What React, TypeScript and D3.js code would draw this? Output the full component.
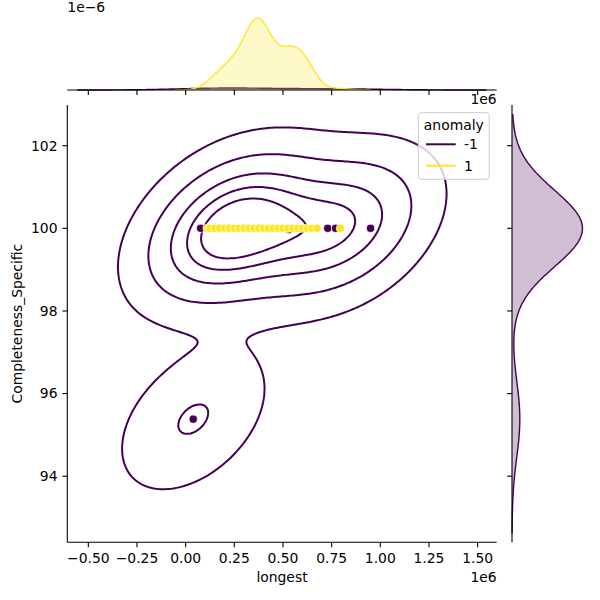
import React from 'react';
import * as d3 from 'd3';

// anomaly = -1 (purple) and anomaly = 1 (yellow); "longest" in raw units
const purpleLongest = [77000, 170000, 225000, 300000, 380000, 530000, 730000, 770000, 950000, 39000];
const purpleCompleteness = [100, 100, 100, 100, 100, 99.97, 100, 100, 100, 95.38];

// yellow points all sit at Completeness_Specific = 100; counts of overlapping points per position
const yellowLongest = [
  110000, 125000, 150000, 175000, 200000, 225000, 250000, 275000, 300000, 325000,
  350000, 375000, 400000, 425000, 450000, 475000, 500000, 525000, 550000, 575000,
  600000, 625000, 650000, 675000, 795000,
];
const yellowCount = [
  1, 1, 2, 3, 4, 4, 4, 5, 6, 9,
  12, 14, 11, 7, 5, 5, 5, 6, 7, 7,
  6, 5, 3, 1, 1,
];
const yellowCompleteness = 100;

const hueLabels = ['-1', '1'];
const hueColors = ['#440154', '#fde725'];

const xTicks = [-500000, -250000, 0, 250000, 500000, 750000, 1000000, 1250000, 1500000];
const yTicks = [94, 96, 98, 100, 102];
const xLimits = [-608000, 1598000];
const yLimits = [92.4, 102.985];
const contourLevels = 6;

const width = 600;
const height = 600;
const main = {left: 67.3, right: 496.7, top: 105, bottom: 542.3};
const margTop = {top: 14.7, bottom: 90};
const margRight = {left: 512, right: 586};
const font = 'DejaVu Sans, sans-serif';

function linspace(lo: number, hi: number, n: number) {
  return d3.range(n).map((i) => lo + ((hi - lo) * i) / (n - 1));
}

function kde1d(values: number[], gridsize = 200, cut = 3) {
  const n = values.length;
  const bw = Math.pow(n, -0.2) * (d3.deviation(values) as number);
  const grid = linspace((d3.min(values) as number) - cut * bw, (d3.max(values) as number) + cut * bw, gridsize);
  return grid.map((g) => [
    g,
    d3.sum(values, (v) => Math.exp(-0.5 * ((g - v) / bw) ** 2)) / (n * bw * Math.sqrt(2 * Math.PI)),
  ]);
}

function kde2d(xs: number[], ys: number[], gridsize = 200, cut = 3) {
  const n = xs.length;
  const mx = d3.mean(xs) as number;
  const my = d3.mean(ys) as number;
  let sxx = 0;
  let syy = 0;
  let sxy = 0;
  for (let i = 0; i < n; i++) {
    sxx += (xs[i] - mx) ** 2;
    syy += (ys[i] - my) ** 2;
    sxy += (xs[i] - mx) * (ys[i] - my);
  }
  const f2 = Math.pow(n, -2 / 6);
  const a = (sxx / (n - 1)) * f2;
  const d = (syy / (n - 1)) * f2;
  const b = (sxy / (n - 1)) * f2;
  const det = a * d - b * b;
  const norm = 1 / (2 * Math.PI * Math.sqrt(det) * n);
  const gx = linspace((d3.min(xs) as number) - cut * Math.sqrt(a), (d3.max(xs) as number) + cut * Math.sqrt(a), gridsize);
  const gy = linspace((d3.min(ys) as number) - cut * Math.sqrt(d), (d3.max(ys) as number) + cut * Math.sqrt(d), gridsize);
  const values = new Float64Array(gridsize * gridsize);
  for (let j = 0; j < gridsize; j++) {
    for (let i = 0; i < gridsize; i++) {
      let s = 0;
      for (let k = 0; k < n; k++) {
        const dx = gx[i] - xs[k];
        const dy = gy[j] - ys[k];
        s += Math.exp(-0.5 * ((d * dx * dx - 2 * b * dx * dy + a * dy * dy) / det));
      }
      values[j * gridsize + i] = s * norm;
    }
  }
  return {gx, gy, values, gridsize};
}

// seaborn-style iso-proportion levels
function isoLevels(values: Float64Array, quantiles: number[]) {
  const sorted = Array.from(values).sort((p, q) => q - p);
  const total = d3.sum(sorted);
  const cum: number[] = [];
  let acc = 0;
  for (const v of sorted) {
    acc += v;
    cum.push(acc / total);
  }
  return quantiles.map((q) => {
    const idx = d3.bisectLeft(cum, 1 - q);
    return sorted[Math.min(idx, sorted.length - 1)];
  });
}

export default function App() {
  const x = d3.scaleLinear().domain(xLimits).range([main.left, main.right]);
  const y = d3.scaleLinear().domain(yLimits).range([main.bottom, main.top]);

  const yellowAll = yellowLongest.flatMap((v, i) => Array(yellowCount[i]).fill(v));
  const total = yellowAll.length + purpleLongest.length;

  // joint kde for anomaly -1 (anomaly 1 has zero variance in y, seaborn skips it)
  const k2 = kde2d(purpleLongest, purpleCompleteness);
  const maxDensity = d3.max(k2.values) as number;
  const levels = isoLevels(k2.values, linspace(0.05, 1, contourLevels)).filter((l) => l < maxDensity);
  const contours = d3.contours().size([k2.gridsize, k2.gridsize]).thresholds(levels)(Array.from(k2.values));
  const stepX = k2.gx[1] - k2.gx[0];
  const stepY = k2.gy[1] - k2.gy[0];
  const contourPath = d3.geoPath(
    d3.geoTransform({
      point(px: number, py: number) {
        this.stream.point(x(k2.gx[0] + (px - 0.5) * stepX), y(k2.gy[0] + (py - 0.5) * stepY));
      },
    }),
  );

  // marginals
  const topPurple = kde1d(purpleLongest).map(([g, v]) => [g, (v * purpleLongest.length) / total]);
  const topYellow = kde1d(yellowAll).map(([g, v]) => [g, (v * yellowAll.length) / total]);
  const topMax = d3.max([...topPurple, ...topYellow], (p) => p[1]) as number;
  const yTop = d3.scaleLinear().domain([0, topMax * 1.05]).range([margTop.bottom, margTop.top]);
  const rightPurple = kde1d(purpleCompleteness).map(([g, v]) => [g, (v * purpleCompleteness.length) / total]);
  const rightMax = d3.max(rightPurple, (p) => p[1]) as number;
  const xRight = d3.scaleLinear().domain([0, rightMax * 1.05]).range([margRight.left, margRight.right]);

  const topArea = d3.area<number[]>().x((p) => x(p[0])).y0(yTop(0)).y1((p) => yTop(p[1]));
  const topLine = d3.line<number[]>().x((p) => x(p[0])).y((p) => yTop(p[1]));
  const rightArea = d3.area<number[]>().y((p) => y(p[0])).x0(xRight(0)).x1((p) => xRight(p[1]));
  const rightLine = d3.line<number[]>().y((p) => y(p[0])).x((p) => xRight(p[1]));

  const fmtX = (v: number) => (v / 1e6).toFixed(2).replace('-', '\u2212');

  return (
    <svg width={width} height={height} style={{display: 'block', position: 'absolute', left: 0, top: 0}} fontFamily={font}>
      <rect width={width} height={height} fill="white" />
      <defs>
        <clipPath id="mainclip">
          <rect x={main.left} y={main.top} width={main.right - main.left} height={main.bottom - main.top} />
        </clipPath>
      </defs>

      {/* top marginal */}
      <g>
        <path d={topArea(topPurple) as string} fill={hueColors[0]} fillOpacity={0.25} />
        <path d={topLine(topPurple) as string} fill="none" stroke={hueColors[0]} strokeWidth={1.4} />
        <path d={topArea(topYellow) as string} fill={hueColors[1]} fillOpacity={0.25} />
        <path d={topLine(topYellow) as string} fill="none" stroke={hueColors[1]} strokeWidth={1.4} />
        <line x1={main.left} x2={main.right} y1={margTop.bottom} y2={margTop.bottom} stroke="black" strokeWidth={1.1} />
        {xTicks.map((t) => (
          <line key={t} x1={x(t)} x2={x(t)} y1={margTop.bottom} y2={margTop.bottom + 4.9} stroke="black" strokeWidth={1.1} />
        ))}
        <text x={main.left} y={12} fontSize={13.9}>1e{'\u2212'}6</text>
        <text x={main.right} y={104} fontSize={13.9} textAnchor="end">1e6</text>
      </g>

      {/* right marginal */}
      <g>
        <path d={rightArea(rightPurple) as string} fill={hueColors[0]} fillOpacity={0.25} />
        <path d={rightLine(rightPurple) as string} fill="none" stroke={hueColors[0]} strokeWidth={1.4} />
        <line x1={margRight.left} x2={margRight.left} y1={main.top} y2={main.bottom} stroke="black" strokeWidth={1.1} />
        {yTicks.map((t) => (
          <line key={t} x1={margRight.left - 4.9} x2={margRight.left} y1={y(t)} y2={y(t)} stroke="black" strokeWidth={1.1} />
        ))}
      </g>

      {/* joint */}
      <g clipPath="url(#mainclip)">
        {contours.map((c, i) => (
          <path key={i} d={contourPath(c) as string} fill="none" stroke={hueColors[0]} strokeWidth={2} />
        ))}
        {purpleLongest.map((v, i) => (
          <circle key={`p${i}`} cx={x(v)} cy={y(purpleCompleteness[i])} r={4.1} fill={hueColors[0]} stroke="white" strokeWidth={0.7} />
        ))}
        {yellowLongest.map((v, i) => (
          <circle key={`y${i}`} cx={x(v)} cy={y(yellowCompleteness)} r={4.1} fill={hueColors[1]} stroke="white" strokeWidth={0.7} />
        ))}
      </g>
      <line x1={main.left} x2={main.left} y1={main.top} y2={main.bottom} stroke="black" strokeWidth={1.1} />
      <line x1={main.left} x2={main.right} y1={main.bottom} y2={main.bottom} stroke="black" strokeWidth={1.1} />
      {xTicks.map((t) => (
        <g key={t} transform={`translate(${x(t)}, ${main.bottom})`}>
          <line y2={4.9} stroke="black" strokeWidth={1.1} />
          <text y={9.8} dy="0.76em" fontSize={13.9} textAnchor="middle">{fmtX(t)}</text>
        </g>
      ))}
      {yTicks.map((t) => (
        <g key={t} transform={`translate(${main.left}, ${y(t)})`}>
          <line x2={-4.9} stroke="black" strokeWidth={1.1} />
          <text x={-9.8} dy="0.35em" fontSize={13.9} textAnchor="end">{t}</text>
        </g>
      ))}
      <text x={(main.left + main.right) / 2} y={582} fontSize={13.9} textAnchor="middle">longest</text>
      <text x={main.right} y={582} fontSize={13.9} textAnchor="end">1e6</text>
      <text transform={`translate(17, ${(main.top + main.bottom) / 2}) rotate(-90)`} dy="0.35em" fontSize={13.9} textAnchor="middle">
        Completeness_Specific
      </text>

      {/* legend */}
      <g>
        <rect x={418.3} y={112.7} width={71} height={66.6} rx={3} fill="white" fillOpacity={0.8} stroke="#cccccc" strokeWidth={1} />
        <text x={453.8} y={129.5} fontSize={13.9} textAnchor="middle">anomaly</text>
        {hueLabels.map((lab, i) => (
          <g key={lab} transform={`translate(426, ${144.3 + i * 21.4})`}>
            <line x1={0} x2={29.7} stroke={hueColors[i]} strokeWidth={2} />
            <text x={38} dy="0.35em" fontSize={13.9}>{lab}</text>
          </g>
        ))}
      </g>
    </svg>
  );
}
